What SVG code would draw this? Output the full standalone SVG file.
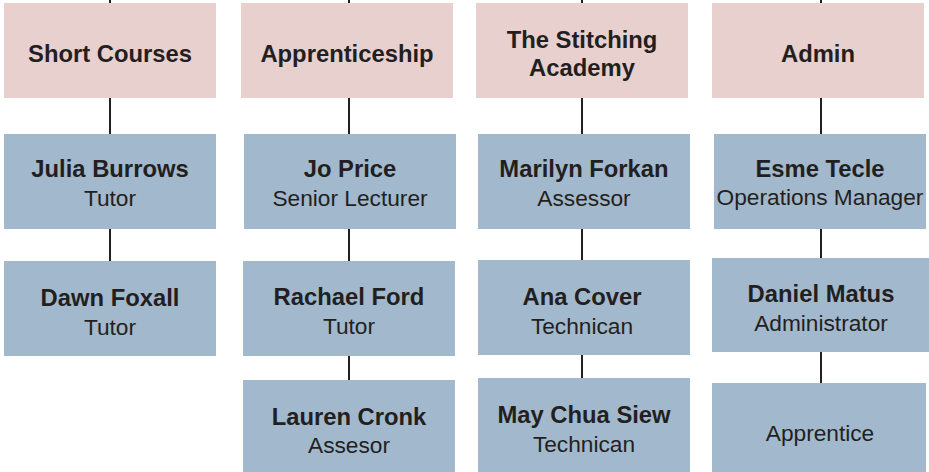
<svg xmlns="http://www.w3.org/2000/svg" width="929" height="472" viewBox="0 0 929 472">
<style>
.h{fill:#e8d0cf}
.p{fill:#a2b8cc}
text{font-family:"Liberation Sans",Arial,sans-serif;fill:#231f20;text-anchor:middle}
.b{font-weight:bold;font-size:23.8px}
.r{font-size:22.7px}
#connectors line{stroke:#231f20;stroke-width:2}
</style>
<rect width="929" height="472" fill="#ffffff"/>
<g id="connectors">
<line x1="110" y1="0" x2="110" y2="4"/>
<line x1="110" y1="97" x2="110" y2="135"/>
<line x1="110" y1="228" x2="110" y2="262"/>
<line x1="349" y1="0" x2="349" y2="4"/>
<line x1="349" y1="97" x2="349" y2="135"/>
<line x1="349" y1="228" x2="349" y2="262"/>
<line x1="349" y1="355" x2="349" y2="381"/>
<line x1="582" y1="0" x2="582" y2="4"/>
<line x1="582" y1="97" x2="582" y2="135"/>
<line x1="582" y1="228" x2="582" y2="261"/>
<line x1="582" y1="354" x2="582" y2="379"/>
<line x1="821" y1="0" x2="821" y2="4"/>
<line x1="821" y1="97" x2="821" y2="135"/>
<line x1="821" y1="228" x2="821" y2="259"/>
<line x1="821" y1="351" x2="821" y2="384"/>
</g>
<g id="short-courses"><rect class="h" x="4" y="3" width="212" height="95"/><text class="b" x="110" y="62">Short Courses</text></g>
<g id="julia-burrows"><rect class="p" x="4" y="134" width="212" height="95"/><text class="b" x="110" y="177">Julia Burrows</text><text class="r" x="110" y="206">Tutor</text></g>
<g id="dawn-foxall"><rect class="p" x="4" y="261" width="212" height="95"/><text class="b" x="110" y="306">Dawn Foxall</text><text class="r" x="110" y="335">Tutor</text></g>
<g id="apprenticeship"><rect class="h" x="241" y="3" width="212" height="95"/><text class="b" x="347" y="62">Apprenticeship</text></g>
<g id="jo-price"><rect class="p" x="244" y="134" width="212" height="95"/><text class="b" x="350" y="177">Jo Price</text><text class="r" x="350" y="206">Senior Lecturer</text></g>
<g id="rachael-ford"><rect class="p" x="243" y="261" width="212" height="95"/><text class="b" x="349" y="305">Rachael Ford</text><text class="r" x="349" y="334">Tutor</text></g>
<g id="lauren-cronk"><rect class="p" x="243" y="380" width="212" height="92"/><text class="b" x="349" y="425">Lauren Cronk</text><text class="r" x="349" y="453">Assesor</text></g>
<g id="stitching-academy"><rect class="h" x="476" y="3" width="212" height="95"/><text class="b" x="582" y="48">The Stitching</text><text class="b" x="582" y="76">Academy</text></g>
<g id="marilyn-forkan"><rect class="p" x="478" y="134" width="212" height="95"/><text class="b" x="584" y="177">Marilyn Forkan</text><text class="r" x="584" y="206">Assessor</text></g>
<g id="ana-cover"><rect class="p" x="478" y="260" width="212" height="95"/><text class="b" x="582" y="305">Ana Cover</text><text class="r" x="582" y="334">Technican</text></g>
<g id="may-chua-siew"><rect class="p" x="478" y="378" width="212" height="94"/><text class="b" x="584" y="423">May Chua Siew</text><text class="r" x="584" y="452">Technican</text></g>
<g id="admin"><rect class="h" x="712" y="3" width="212" height="95"/><text class="b" x="818" y="62">Admin</text></g>
<g id="esme-tecle"><rect class="p" x="714" y="134" width="212" height="95"/><text class="b" x="820" y="177">Esme Tecle</text><text class="r" x="820" y="205">Operations Manager</text></g>
<g id="daniel-matus"><rect class="p" x="712" y="258" width="217" height="94"/><text class="b" x="821" y="302">Daniel Matus</text><text class="r" x="821" y="331">Administrator</text></g>
<g id="apprentice"><rect class="p" x="712" y="383" width="214" height="89"/><text class="r" x="820" y="441">Apprentice</text></g>
</svg>
